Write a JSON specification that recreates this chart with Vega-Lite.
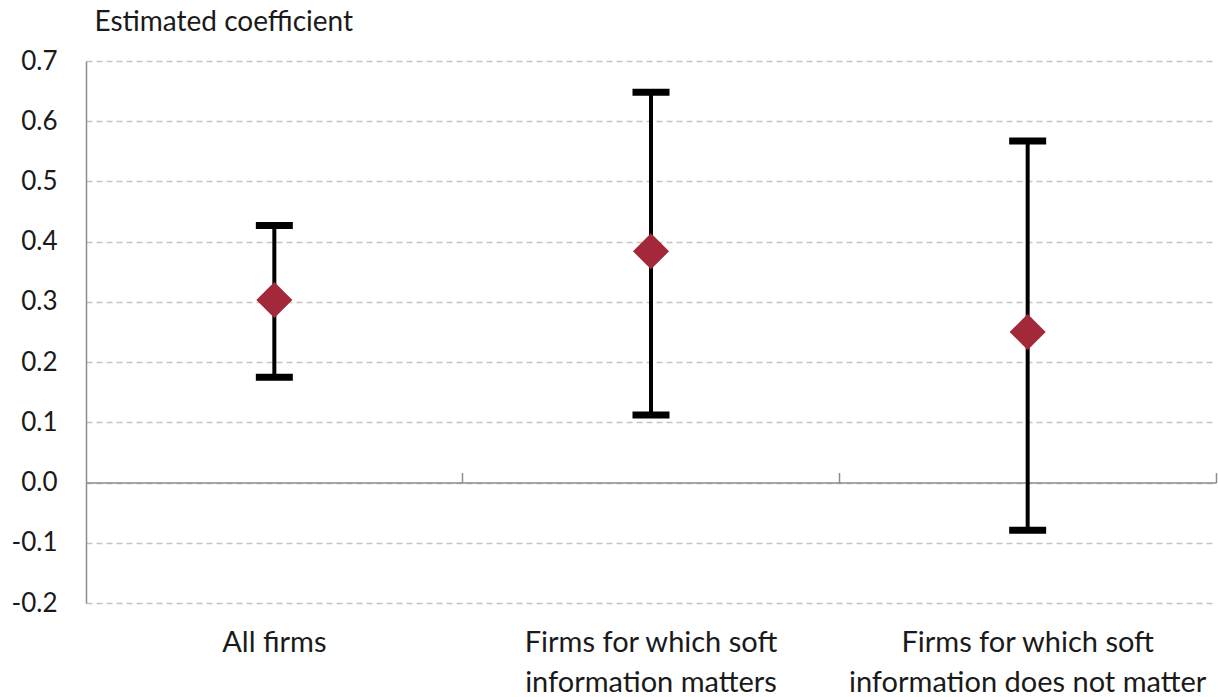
{
  "$schema": "https://vega.github.io/schema/vega-lite/v6.json",
  "autosize": {"type": "none"},
  "padding": {"left": 86, "top": 61, "right": 2, "bottom": 94},
  "width": 1130,
  "height": 542,
  "background": "white",
  "config": {
    "view": {"stroke": null},
    "font": "Lato",
    "axis": {"labelFont": "Lato", "titleFont": "Lato", "labelColor": "#1a1a1a", "titleColor": "#1a1a1a"}
  },
  "data": {
    "values": [
      {"group": "All firms", "coef": 0.303, "lower": 0.175, "upper": 0.427},
      {"group": "Firms for which soft information matters", "coef": 0.384, "lower": 0.112, "upper": 0.648},
      {"group": "Firms for which soft information does not matter", "coef": 0.25, "lower": -0.079, "upper": 0.567}
    ]
  },
  "resolve": {"axis": {"x": "independent"}},
  "encoding": {
    "x": {"field": "group", "type": "nominal", "sort": null, "scale": {"paddingInner": 0, "paddingOuter": 0}}
  },
  "layer": [
    {
      "mark": {"type": "rule", "color": "#000000", "strokeWidth": 4},
      "encoding": {
        "x": {"field": "group", "type": "nominal", "sort": null,
          "axis": {"orient": "bottom", "offset": -120.44, "labels": false, "title": null, "grid": false,
            "domain": true, "domainColor": "#8c8c8c", "domainWidth": 1.5,
            "ticks": true, "bandPosition": 1, "tickSize": -10, "tickColor": "#8c8c8c", "tickWidth": 1.5}},
        "y": {"field": "lower", "type": "quantitative",
          "scale": {"domain": [-0.2, 0.7], "nice": false, "zero": false},
          "axis": {"values": [-0.2, -0.1, 0, 0.1, 0.2, 0.3, 0.4, 0.5, 0.6, 0.7],
            "labelExpr": "replace(format(datum.value, '.1f'), '\u2212', '-')",
            "labelFontSize": 26, "labelPadding": 29, "ticks": false,
            "domain": true, "domainColor": "#8c8c8c", "domainWidth": 1.5,
            "grid": true, "gridColor": "#c4c4c4", "gridDash": [6, 4], "gridWidth": 1.3,
            "title": "Estimated coefficient", "titleAngle": 0, "titleAlign": "left", "titleBaseline": "middle",
            "titleX": 8, "titleY": -39, "titleFontSize": 28, "titleFontWeight": "normal"}},
        "y2": {"field": "upper"}
      }
    },
    {
      "mark": {"type": "tick", "color": "#000000", "size": 37, "thickness": 7, "orient": "horizontal", "opacity": 1},
      "encoding": {
        "x": {"field": "group", "type": "nominal", "sort": null, "axis": null},
        "y": {"field": "upper", "type": "quantitative"}
      }
    },
    {
      "mark": {"type": "tick", "color": "#000000", "size": 37, "thickness": 7, "orient": "horizontal", "opacity": 1},
      "encoding": {
        "x": {"field": "group", "type": "nominal", "sort": null, "axis": null},
        "y": {"field": "lower", "type": "quantitative"}
      }
    },
    {
      "mark": {"type": "point", "shape": "diamond", "filled": true, "color": "#A3283A", "size": 1300, "opacity": 1},
      "encoding": {
        "x": {"field": "group", "type": "nominal", "sort": null,
          "axis": {"orient": "bottom", "title": null, "domain": false, "ticks": false, "grid": false,
            "labelAngle": 0, "labelFontSize": 29, "labelLineHeight": 40, "labelPadding": 25,
            "labelBaseline": "top", "labelLimit": 0,
            "labelExpr": "datum.label == 'Firms for which soft information matters' ? ['Firms for which soft', 'information matters'] : datum.label == 'Firms for which soft information does not matter' ? ['Firms for which soft', 'information does not matter'] : datum.label"}},
        "y": {"field": "coef", "type": "quantitative"}
      }
    }
  ]
}
